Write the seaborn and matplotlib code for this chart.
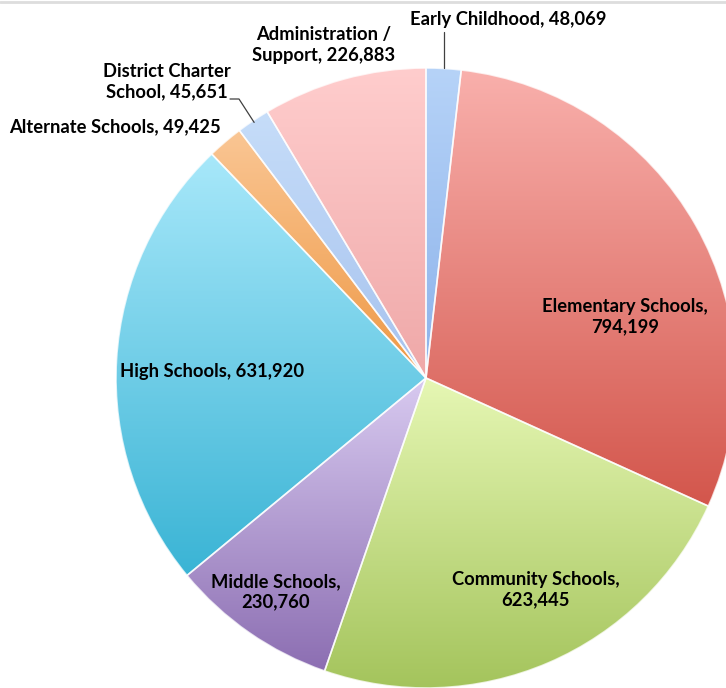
import numpy as np
import matplotlib
matplotlib.use("Agg")
import matplotlib.pyplot as plt
from matplotlib.colors import LinearSegmentedColormap
import seaborn as sns

# Spending by program area (dollars, thousands)
categories = ["Early Childhood", "Elementary Schools", "Community Schools",
              "Middle Schools", "High Schools", "Alternate Schools",
              "District Charter School", "Administration / Support"]
values = [48069, 794199, 623445, 230760, 631920, 49425, 45651, 226883]

# light (top) and deep (bottom) shade of each slice
top_colors = ["#B6D3F8", "#F9B0AC", "#E6F7B4", "#D8CAF0", "#A8E8FA",
              "#FAC694", "#C6DDF9", "#FFCDCD"]
bottom_colors = ["#8CB2EA", "#D3564C", "#A4C45C", "#8C6EB2", "#3AB4D5",
                 "#EE9844", "#A6C2EE", "#EFA8A8"]

sns.set_theme(style="white")
plt.rcParams["font.family"] = ["Lato", "DejaVu Sans"]

W, H = 726, 688
fig = plt.figure(figsize=(W / 100, H / 100), dpi=100)
ax = fig.add_axes([0, 0, 1, 1])

cx, cy, R = 426, H - 378, 310
wedges, _ = ax.pie(values, startangle=90, counterclock=False,
                   center=(cx, cy), radius=R,
                   colors=top_colors,
                   wedgeprops=dict(edgecolor="white", linewidth=1.2),
                   frame=True)
ax.set_aspect("equal")
ax.axis("off")

# vertical gradient fill clipped to each slice
grad = np.linspace(0, 1, 256).reshape(-1, 1)
for w, c0, c1 in zip(wedges, top_colors, bottom_colors):
    ext = w.get_path().get_extents()
    cmap = LinearSegmentedColormap.from_list("g", [c1, c0])
    im = ax.imshow(grad, cmap=cmap, origin="lower", aspect="auto",
                   extent=(ext.x0, ext.x1, ext.y0, ext.y1), zorder=1.5,
                   interpolation="bilinear")
    im.set_clip_path(w)
    w.set_facecolor("none")
    w.set_edgecolor((1, 1, 1, 0.75))
    w.set_zorder(2)

ax.set_xlim(0, W)
ax.set_ylim(0, H)


def label(name, val, sep=", "):
    return f"{name}{sep}{val:,}"


def rim_point(i, r=R):
    w = wedges[i]
    ang = np.deg2rad((w.theta1 + w.theta2) / 2)
    return cx + r * np.cos(ang), cy + r * np.sin(ang)


fs = 13.2
kw = dict(fontsize=fs, fontweight="bold", color="black", zorder=5,
          ha="center", va="center", linespacing=1.22)

# labels inside the pie
ax.text(625, H - 317, label("Elementary Schools", values[1], ",\n"), **kw)
ax.text(536, H - 590, label("Community Schools", values[2], ",\n"), **kw)
ax.text(276, H - 592, label("Middle Schools", values[3], ",\n"), **kw)
ax.text(212, H - 371, label("High Schools", values[4]), **kw)

# labels outside the pie
ax.text(508, H - 20, label("Early Childhood", values[0]), **kw)
ax.text(324, H - 45, label("Administration /\nSupport", values[7]), **kw)
ax.text(167, H - 82, label("District Charter\nSchool", values[6]), **kw)
ax.text(115, H - 127, label("Alternate Schools", values[5]), **kw)

# leader lines
px, py = rim_point(0, R + 1)
ax.plot([px, px], [H - 32, py], color="#404040", lw=0.9, zorder=4)
px, py = rim_point(6, R - 2)
ax.plot([230, 239, px], [H - 99, H - 99, py], color="#404040", lw=0.9,
        zorder=4)

# faint rule along the top edge
ax.plot([0, W], [H - 1.5, H - 1.5], color="#DDDDDD", lw=2, zorder=0)

fig.savefig("out.png", dpi=100, facecolor="white")
